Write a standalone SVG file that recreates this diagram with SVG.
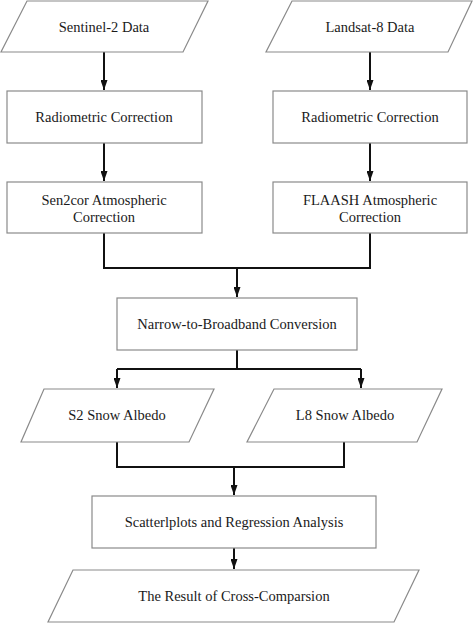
<svg xmlns="http://www.w3.org/2000/svg" width="474" height="623" viewBox="0 0 474 623">
<defs>
<style>
.box{fill:#fff;stroke:#8a8a8a;stroke-width:1.2}
.t{font-family:'Liberation Serif','Times New Roman','DejaVu Serif',serif;font-size:14.5px;fill:#1a1a1a;text-anchor:middle}
.c{fill:none;stroke:#111;stroke-width:2}
</style>
<marker id="ah" viewBox="0 0 10 7" refX="10" refY="3.5" markerWidth="10" markerHeight="7" markerUnits="userSpaceOnUse" orient="auto">
<path d="M0,0 L10,3.5 L0,7 Z" fill="#111"/>
</marker>
</defs>
<rect width="474" height="623" fill="#fff"/>
<g id="connectors">
<path class="c" d="M104,52 V90" marker-end="url(#ah)"/>
<path class="c" d="M104,143 V181" marker-end="url(#ah)"/>
<path class="c" d="M370,52 V90" marker-end="url(#ah)"/>
<path class="c" d="M370,143 V181" marker-end="url(#ah)"/>
<path class="c" d="M104,233 V268 H370 V233"/>
<path class="c" d="M237,268 V297" marker-end="url(#ah)"/>
<path class="c" d="M237,350 V369"/>
<path class="c" d="M117,369 H361"/>
<path class="c" d="M117,369 V388" marker-end="url(#ah)"/>
<path class="c" d="M361,369 V388" marker-end="url(#ah)"/>
<path class="c" d="M117,442 V467 H344 V442"/>
<path class="c" d="M234,467 V495" marker-end="url(#ah)"/>
<path class="c" d="M234,548 V569" marker-end="url(#ah)"/>
</g>
<g id="sentinel">
<polygon class="box" points="27,1 208,1 183,52 1,52"/>
<text class="t" font-family="Liberation Serif, serif" x="104" y="32">Sentinel-2 Data</text>
</g>
<g id="landsat">
<polygon class="box" points="292,1 472,1 448,52 266,52"/>
<text class="t" x="370" y="32">Landsat-8 Data</text>
</g>
<g id="radio-s2">
<rect class="box" x="7" y="91" width="195" height="52"/>
<text class="t" x="104" y="122">Radiometric Correction</text>
</g>
<g id="radio-l8">
<rect class="box" x="273" y="91" width="194" height="52"/>
<text class="t" x="370" y="122">Radiometric Correction</text>
</g>
<g id="sen2cor">
<rect class="box" x="7" y="182" width="195" height="51"/>
<text class="t" x="104" y="205">Sen2cor Atmospheric</text>
<text class="t" x="104" y="222">Correction</text>
</g>
<g id="flaash">
<rect class="box" x="273" y="182" width="194" height="51"/>
<text class="t" x="370" y="205">FLAASH Atmospheric</text>
<text class="t" x="370" y="222">Correction</text>
</g>
<g id="nbc">
<rect class="box" x="117" y="298" width="240" height="52"/>
<text class="t" x="237" y="329">Narrow-to-Broadband Conversion</text>
</g>
<g id="s2albedo">
<polygon class="box" points="44,389 214,389 189,442 21,442"/>
<text class="t" x="117" y="420">S2 Snow Albedo</text>
</g>
<g id="l8albedo">
<polygon class="box" points="274,389 442,389 417,442 247,442"/>
<text class="t" x="345" y="420">L8 Snow Albedo</text>
</g>
<g id="scatter">
<rect class="box" x="92" y="496" width="284" height="52"/>
<text class="t" x="234" y="527">Scatterlplots and Regression Analysis</text>
</g>
<g id="result">
<polygon class="box" points="73,570 419,570 394,622 48,622"/>
<text class="t" x="234" y="601">The Result of Cross-Comparsion</text>
</g>
</svg>
